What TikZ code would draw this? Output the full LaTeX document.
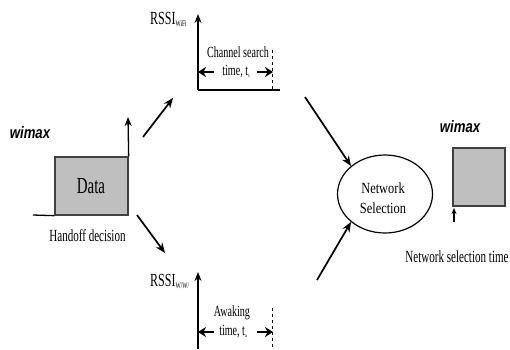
\documentclass[tikz,border=0pt]{standalone}
\usepackage{fontspec}
\setmainfont{Liberation Serif}
\newfontfamily\nserif[FakeStretch=0.65]{Liberation Serif}
\newfontfamily\mserif[FakeStretch=0.8]{Liberation Serif}
\newfontfamily\wfont[FakeStretch=0.8]{Liberation Sans}
\usetikzlibrary{arrows.meta,shapes.geometric}
\tikzset{
  txt/.style={inner sep=0pt,font=\nserif\fontsize{15}{17}\selectfont},
  wmx/.style={inner sep=0pt,font=\wfont\fontsize{16.5}{18}\selectfont\bfseries\itshape},
  bigarrow/.style={line width=1.7pt,-{Stealth[length=10pt,width=8pt]}},
  harrow/.style={line width=2.2pt,-{Stealth[length=8pt,width=10pt]}},
  axis/.style={line width=1.3pt},
  axisarrow/.style={line width=1.3pt,-{Stealth[length=9pt,width=7pt]}},
  dsh/.style={line width=1pt,dash pattern=on 3pt off 3pt},
  graybox/.style={draw=black!75,line width=1.3pt,fill=gray!50},
}
\begin{document}
\begin{tikzpicture}[x=1pt,y=-1pt]
\useasboundingbox (0,0) rectangle (510,349);
% left data block
\coordinate (b0) at (33,215);
\node[graybox,minimum width=73pt,minimum height=58pt,inner sep=0pt] (data) at (91.5,186) {};
\node[inner sep=0pt,font=\nserif\fontsize{23}{25}\selectfont] (datat) at (91,186) {Data};
\draw[axis] (b0) -- (data.south west);
\coordinate (up1) at (128,117);
\draw[axisarrow] (data.north east) -- (up1);
\node[wmx] (w1) at (30,133) {wimax};
\node[txt,font=\nserif\fontsize{17}{18}\selectfont] (hd) at (87.5,236) {Handoff decision};

% top chart
\coordinate (o1) at (198,90);
\coordinate (t1) at (198,14);
\coordinate (e1) at (280,90);
\coordinate (d1a) at (272,50);
\coordinate (d1b) at (272,90);
\draw[axisarrow] (o1) -- (t1);
\draw[axis] (o1) -- (e1);
\draw[dsh] (d1a) -- (d1b);
\node[inner sep=0pt,anchor=base west,font=\nserif\fontsize{18.5}{20}\selectfont] (r1) at (150,24) {RSSI\raisebox{-2.5pt}{\fontsize{8.5}{9}\selectfont WiFi}};
\node[txt,font=\nserif\fontsize{15.5}{17}\selectfont] (cs) at (238,52) {Channel search};
\node[txt,font=\nserif\fontsize{15.5}{17}\selectfont] (ts) at (236,72) {time, t\raisebox{-2pt}{\fontsize{6}{7}\selectfont s}};
\coordinate (a1s) at (214,72);
\coordinate (a1e) at (198,72);
\coordinate (a2s) at (257,72);
\coordinate (a2e) at (273,72);
\draw[harrow] (a1s) -- (a1e);
\draw[harrow] (a2s) -- (a2e);

% bottom chart
\coordinate (o2) at (198,349);
\coordinate (t2) at (198,272);
\coordinate (d2a) at (272,308);
\coordinate (d2b) at (272,349);
\draw[axisarrow] (o2) -- (t2);
\draw[dsh] (d2a) -- (d2b);
\node[inner sep=0pt,anchor=base west,font=\nserif\fontsize{18.5}{20}\selectfont] (r2) at (150,286) {RSSI\raisebox{-2.5pt}{\fontsize{8.5}{9}\selectfont W/W/}};
\node[txt,font=\nserif\fontsize{15.5}{17}\selectfont] (aw) at (232,313) {Awaking};
\node[txt,font=\nserif\fontsize{15.5}{17}\selectfont] (ta) at (233,332) {time, t\raisebox{-2pt}{\fontsize{6}{7}\selectfont a}};
\coordinate (b1s) at (214,332);
\coordinate (b1e) at (198,332);
\coordinate (b2s) at (257,332);
\coordinate (b2e) at (273,332);
\draw[harrow] (b1s) -- (b1e);
\draw[harrow] (b2s) -- (b2e);

% diagonal arrows
\coordinate (p1) at (143,137);
\coordinate (p2) at (173,98);
\coordinate (q1) at (137,215);
\coordinate (q2) at (165,253);
\coordinate (p3) at (305,97);
\coordinate (q3) at (317,280);
\draw[bigarrow] (p1) -- (p2);
\draw[bigarrow] (q1) -- (q2);

% ellipse
\node[draw,ellipse,line width=1.2pt,minimum width=95pt,minimum height=78pt,inner sep=0pt] (ns) at (385,194) {};
\node[inner sep=0pt,font=\mserif\fontsize{15.5}{17}\selectfont] (ns1) at (383,188) {Network};
\node[inner sep=0pt,font=\mserif\fontsize{15.5}{17}\selectfont] (ns2) at (383,208) {Selection};
\draw[bigarrow] (p3) -- (ns.north west);
\draw[bigarrow] (q3) -- (ns.south west);

% right block
\node[wmx] (w2) at (460,127) {wimax};
\node[graybox,minimum width=52pt,minimum height=58pt,inner sep=0pt] (rb) at (479,177) {};
\coordinate (s1) at (454,222);
\coordinate (s2) at (454,208);
\draw[line width=1.3pt,-{Stealth[length=6pt,width=5pt]}] (s1) -- (s2);
\node[txt,font=\nserif\fontsize{17}{18}\selectfont] (nst) at (457,257) {Network selection time};
\end{tikzpicture}
\end{document}
